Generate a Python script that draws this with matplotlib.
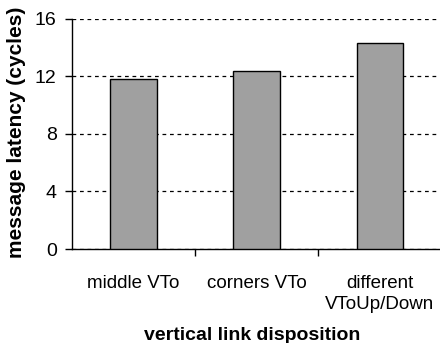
import matplotlib
matplotlib.use("Agg")
import matplotlib.pyplot as plt
from matplotlib.ticker import FixedLocator

plt.rcParams['font.family'] = ['Liberation Sans', 'DejaVu Sans']

categories = ["middle VTo", "corners VTo", "different\nVToUp/Down"]
latency = [11.8, 12.4, 14.3]
y_ticks = [0, 4, 8, 12, 16]

fig = plt.figure(figsize=(4.4, 3.43), dpi=100)
ax = fig.add_axes([0.1636, 0.274, 0.84, 0.671])

x = list(range(len(categories)))
ax.bar(x, latency, width=0.38, color="#a0a0a0", edgecolor="black", linewidth=1.0, zorder=3)

ax.set_xlim(-0.5, len(categories) - 0.5)
ax.set_ylim(0, 16)
ax.set_yticks(y_ticks)
ax.set_yticklabels([str(v) for v in y_ticks], fontsize=14)
ax.yaxis.grid(True, linestyle=(0, (3, 3)), color="black", linewidth=0.9, zorder=0)

ax.set_xticks(x)
ax.set_xticklabels(categories, fontsize=13.5, linespacing=1.3)
ax.tick_params(axis="x", length=0, pad=19)
ax.xaxis.set_minor_locator(FixedLocator([i + 0.5 for i in range(len(categories))]))
ax.tick_params(axis="x", which="minor", length=5, width=1, direction="out")
ax.tick_params(axis="y", length=5, width=1, direction="out", pad=6)

for side in ("top", "right"):
    ax.spines[side].set_visible(False)
for side in ("left", "bottom"):
    ax.spines[side].set_linewidth(1.0)

ax.set_ylabel("message latency (cycles)", fontsize=15, fontweight="bold")
ax.yaxis.set_label_coords(-0.125, 0.507)
ax.set_xlabel("vertical link disposition", fontsize=14, fontweight="bold")
ax.xaxis.set_label_coords(0.487, -0.34)

fig.savefig("out.png", dpi=100)
